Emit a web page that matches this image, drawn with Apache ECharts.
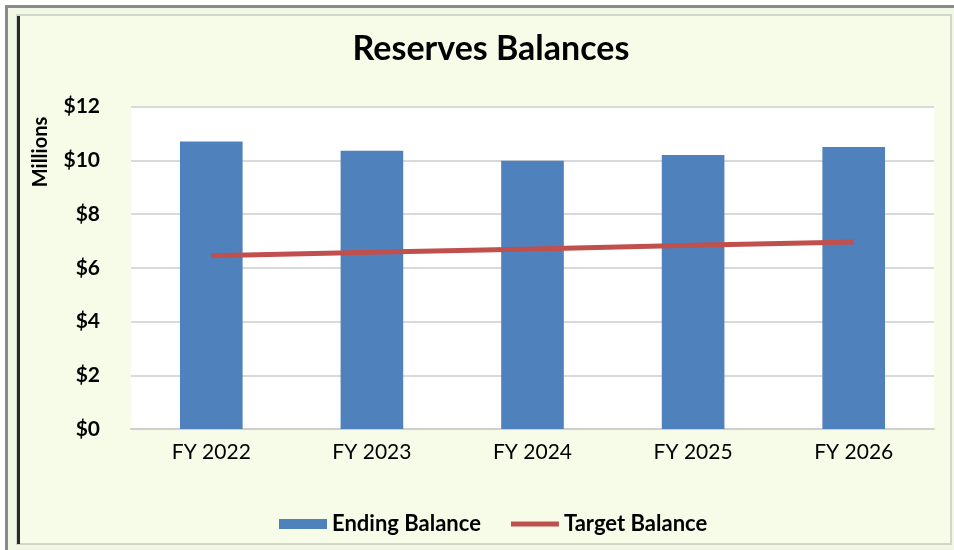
<!DOCTYPE html>
<html>
<head>
<meta charset="utf-8">
<script src="https://cdn.jsdelivr.net/npm/echarts@6/dist/echarts.min.js"></script>
<style>
html,body{margin:0;padding:0;background:#fff;}
#chart{width:954px;height:550px;}
</style>
</head>
<body>
<div id="chart"></div>
<script>
var categories = ['FY 2022', 'FY 2023', 'FY 2024', 'FY 2025', 'FY 2026'];
var endingBalance = [10.70, 10.35, 9.98, 10.20, 10.49];
var targetBalance = [6.45, 6.58, 6.70, 6.84, 6.96];
var seriesNames = ['Ending Balance', 'Target Balance'];
var chartTitle = 'Reserves Balances';
var yAxisTitle = 'Millions';

var chart = echarts.init(document.getElementById('chart'));
var FONT = 'Lato, "Open Sans", sans-serif';
chart.setOption({
  backgroundColor: '#ffffff',
  animation: false,
  graphic: [
    { type: 'rect', z: -10, shape: { x: 6.5, y: 6.5, width: 960, height: 560 },
      style: { fill: '#F3F7E5', stroke: '#8a8a8a', lineWidth: 3 } },
    { type: 'rect', z: -9, shape: { x: 17, y: 15, width: 934, height: 529 },
      style: { fill: '#F7FCE8', stroke: '#d3d8c6', lineWidth: 2 } },
    { type: 'line', z: -8, shape: { x1: 18.5, y1: 16, x2: 18.5, y2: 544 },
      style: { stroke: '#2a2a2a', lineWidth: 3 } },
    { type: 'text', z: 5, x: 41, y: 152, rotation: Math.PI / 2,
      style: { text: yAxisTitle, fontFamily: FONT, fontWeight: 'bold', fontSize: 20,
               fill: '#000', textAlign: 'center', textVerticalAlign: 'middle' } }
  ],
  title: {
    text: chartTitle,
    left: 486,
    textAlign: 'center',
    top: 27,
    textStyle: { fontFamily: FONT, fontWeight: 'bold', fontSize: 34, color: '#000' }
  },
  legend: {
    left: 274,
    top: 508,
    itemWidth: 48,
    itemHeight: 10,
    itemGap: 30,
    textStyle: { fontFamily: FONT, fontWeight: 'bold', fontSize: 22, color: '#000' },
    data: [
      { name: seriesNames[0], icon: 'rect' },
      { name: seriesNames[1], icon: 'path://M0,0H50V5H0Z' }
    ]
  },
  grid: {
    left: 131, right: 20, top: 106.5, bottom: 121,
    show: true, backgroundColor: '#ffffff', borderWidth: 0
  },
  xAxis: {
    type: 'category',
    data: categories,
    axisTick: { show: false },
    axisLine: { lineStyle: { color: '#cfcfcf', width: 2 } },
    axisLabel: { fontFamily: FONT, fontSize: 21, color: '#000', margin: 13 }
  },
  yAxis: {
    type: 'value',
    min: 0, max: 12, interval: 2,
    axisLine: { show: false },
    axisTick: { show: false },
    splitLine: { lineStyle: { color: '#d9d9d9', width: 2 } },
    axisLabel: {
      fontFamily: FONT, fontWeight: 'bold', fontSize: 21, color: '#000', margin: 31,
      formatter: function (v) { return '$' + v; }
    }
  },
  series: [
    {
      name: seriesNames[0], type: 'bar', data: endingBalance,
      barWidth: '39%', itemStyle: { color: '#4F81BD' }, z: 2
    },
    {
      name: seriesNames[1], type: 'line', data: targetBalance,
      symbol: 'none', color: '#C0504D',
      lineStyle: { color: '#C0504D', width: 5 }, itemStyle: { color: '#C0504D' }, z: 3
    }
  ]
});
</script>
</body>
</html>
